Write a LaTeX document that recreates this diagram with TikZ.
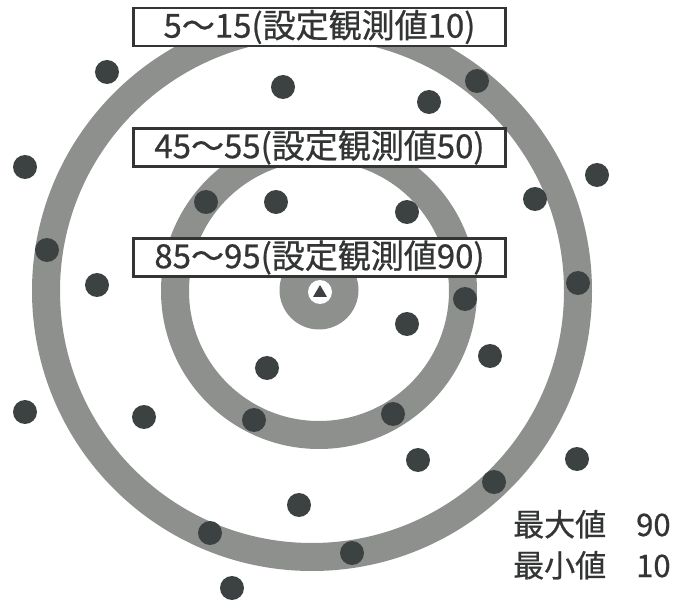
\documentclass[tikz,border=0pt]{standalone}
\usepackage{fontspec}
\usetikzlibrary{calc}
\setmainfont{Noto Sans CJK JP}
\newfontfamily\jpb{Noto Sans CJK JP}[FakeBold=0.7]
\definecolor{ringgray}{HTML}{8E908E}
\definecolor{dotcol}{HTML}{3C4242}
\definecolor{txtcol}{HTML}{333535}
\begin{document}
\begin{tikzpicture}[x=1pt,y=-1pt,
  ring/.style={draw=ringgray, line width=28pt},
  dot/.style={circle, fill=dotcol, inner sep=0pt, minimum size=24pt},
  labelbox/.style={draw=txtcol, line width=2.5pt, fill=white, minimum width=372pt,
    minimum height=38pt, inner sep=0pt, text=txtcol, font=\jpb\fontsize{33}{36}\selectfont},
  legend/.style={text=txtcol, inner sep=0pt, anchor=base west, font=\jpb\fontsize{31}{34}\selectfont}]
\useasboundingbox (0,0) rectangle (673,604);
\fill[white] (0,0) rectangle (673,604);
% rings
\draw[ring] (312,291) circle[radius=266pt];
\draw[ring] (319,291) circle[radius=144pt];
\node[circle, fill=ringgray, inner sep=0pt, minimum size=79pt] (core) at (319,290) {};
\node[circle, fill=white, inner sep=0pt, minimum size=24pt] (mark) at (320,292) {};
\fill[dotcol] ($(mark.center)+(0,-7)$) -- ($(mark.center)+(7,5)$) -- ($(mark.center)+(-7,5)$) -- cycle;
% dots
\foreach \n/\x/\y in {1/107/72, 2/283/87, 3/477/81, 4/429/102, 5/25/167, 6/597/175,
  7/535/199, 8/206/202, 9/276/202, 10/407/212, 11/47/250, 12/97/285, 13/578/283,
  14/465/299, 15/407/324, 16/490/356, 17/267/368, 18/25/412, 19/144/417, 20/393/414,
  21/254/420, 22/418/460, 23/577/459, 24/494/482, 25/299/505, 26/210/533, 27/352/553,
  28/232/588}
  \node[dot] (d\n) at (\x,\y) {};
% labels
\node[labelbox] (l1) at (319.5,27) {5～15(設定観測値10)};
\node[labelbox] (l2) at (319.5,147.5) {45～55(設定観測値50)};
\node[labelbox] (l3) at (319.5,257.5) {85～95(設定観測値90)};
% legend
\node[legend] (maxk) at (513,536) {最大値};
\node[legend] (maxv) at (636,536) {90};
\node[legend] (mink) at (513,577) {最小値};
\node[legend] (minv) at (636,577) {10};
\end{tikzpicture}
\end{document}
